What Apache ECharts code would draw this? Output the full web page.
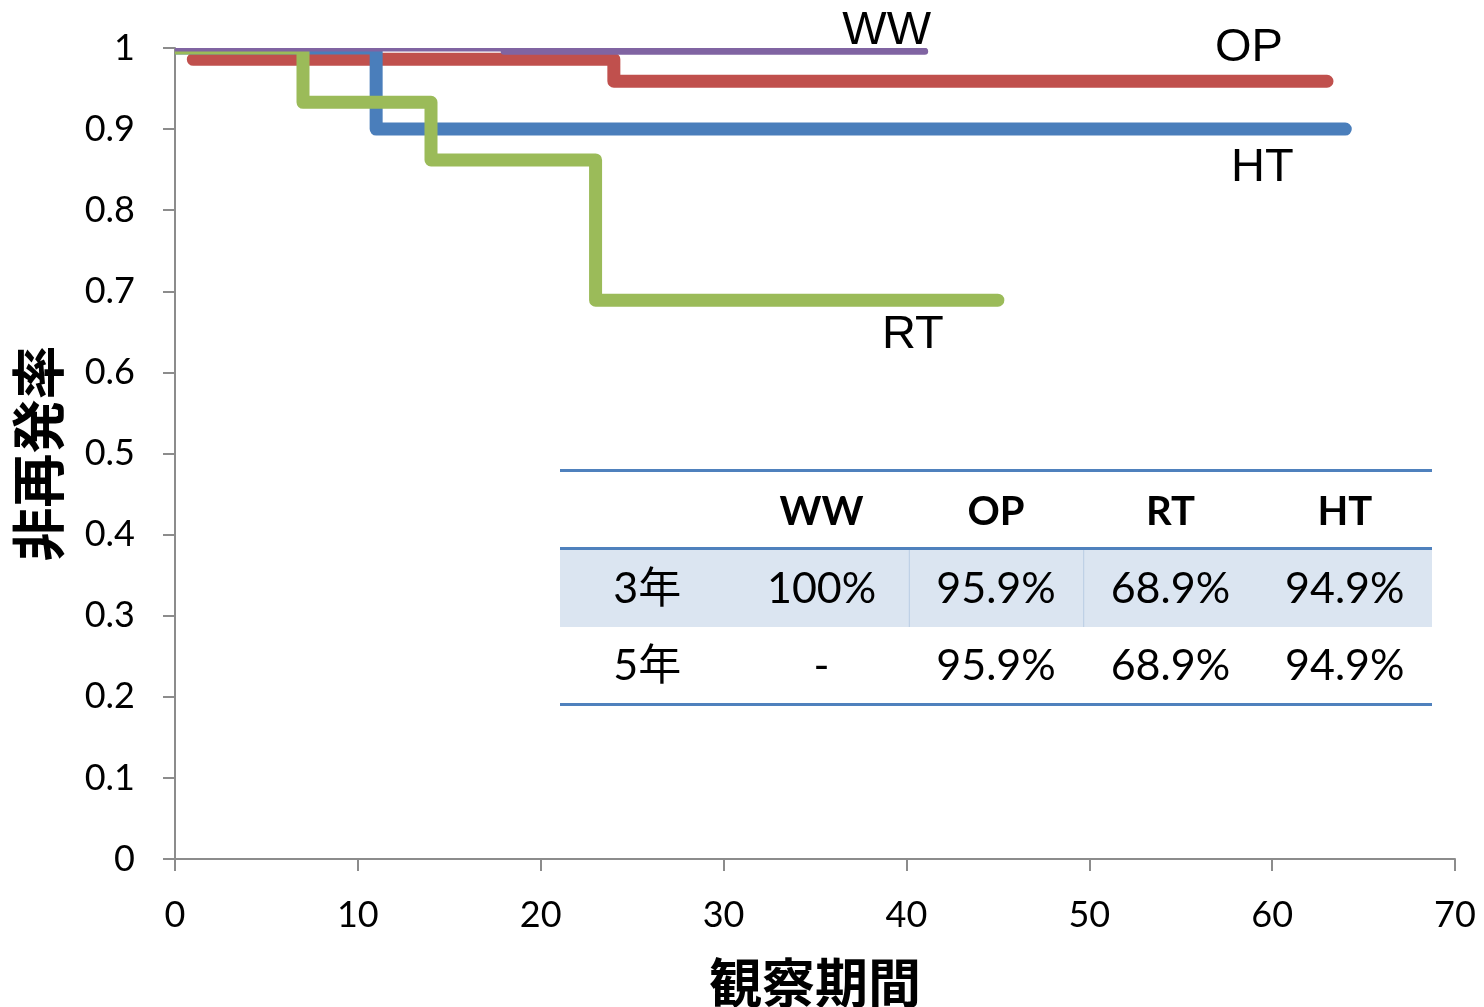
<!DOCTYPE html>
<html>
<head>
<meta charset="utf-8">
<script src="https://cdn.jsdelivr.net/npm/echarts@6/dist/echarts.min.js"></script>
<style>
  html, body { margin: 0; padding: 0; background: #ffffff; }
  #chart { width: 1484px; height: 1007px; }
</style>
</head>
<body>
<div id="chart"></div>
<script>
// Follow-up time (months) and recurrence-free rate at each step of each curve
const wwTime = [0, 18, 41];
const wwRate = [1, 0.996, 0.996];
const opTime = [1, 24, 63];
const opRate = [0.986, 0.959, 0.959];
const htTime = [0, 11, 64];
const htRate = [1, 0.9, 0.9];
const rtTime = [0, 7, 14, 23, 45];
const rtRate = [1, 0.933, 0.862, 0.689, 0.689];

// Summary table
const tableGroups = ['WW', 'OP', 'RT', 'HT'];
const tableRowLabels = ['3年', '5年'];
const rate3y = ['100%', '95.9%', '68.9%', '94.9%'];
const rate5y = ['-', '95.9%', '68.9%', '94.9%'];

const AXIS_GRAY = '#8c8c8c';
const NUM_FONT = 'Lato, "Noto Sans CJK JP", sans-serif';
const CJK_FONT = '"Noto Sans CJK JP", sans-serif';
const TAG_FONT = '"Liberation Sans", Arial, sans-serif';

// Kaplan-Meier style step curve, clipped exactly to the plot area
function stepCurve(name, times, rates, color, width) {
  const pts = times.map((t, i) => [t, rates[i]]);
  return {
    type: 'custom',
    name: name,
    coordinateSystem: 'cartesian2d',
    clip: true,
    silent: true,
    data: pts,
    encode: { x: 0, y: 1 },
    renderItem: function (params, api) {
      if (params.dataIndex !== 0) return null;
      const points = [];
      pts.forEach(function (p, i) {
        if (i > 0) points.push(api.coord([p[0], pts[i - 1][1]]));
        points.push(api.coord(p));
      });
      return {
        type: 'polyline',
        shape: { points: points },
        style: { stroke: color, lineWidth: width, fill: null, lineCap: 'round', lineJoin: 'round' }
      };
    }
  };
}

function lastPoint(times, rates) {
  return [times[times.length - 1], rates[rates.length - 1]];
}

// Curve name tags, anchored to each curve's final point
const curveTags = [
  { name: 'WW', value: lastPoint(wwTime, wwRate), label: { offset: [-38, -20] } },
  { name: 'OP', value: lastPoint(opTime, opRate), label: { offset: [-78, -33] } },
  { name: 'HT', value: lastPoint(htTime, htRate), label: { offset: [-83, 39] } },
  { name: 'RT', value: lastPoint(rtTime, rtRate), label: { offset: [-85, 35] } }
];

// Table layout
const tLeft = 560, tRight = 1432;
const colW = (tRight - tLeft) / 5;
const headY = 512, row1Y = 589, row2Y = 666;
const ruleColor = '#4f81bd';
const tableEls = [];
tableEls.push({ type: 'rect', shape: { x: tLeft, y: 549, width: tRight - tLeft, height: 78 }, style: { fill: '#dbe5f1' } });
[2, 3].forEach(function (c) {
  tableEls.push({ type: 'rect', shape: { x: tLeft + colW * c, y: 549, width: 1, height: 78 }, style: { fill: '#b8cce4' } });
});
[469, 547, 703].forEach(function (y) {
  tableEls.push({ type: 'rect', shape: { x: tLeft, y: y, width: tRight - tLeft, height: 3 }, style: { fill: ruleColor } });
});
function cellText(text, col, y, bold) {
  return {
    type: 'text',
    x: tLeft + colW * (col + 0.5),
    y: y,
    style: {
      text: text,
      fontSize: bold ? 40 : 43,
      fontWeight: bold ? 'bold' : 'normal',
      fontFamily: NUM_FONT,
      fill: '#000000',
      align: 'center',
      verticalAlign: 'middle'
    }
  };
}
tableGroups.forEach(function (g, i) { tableEls.push(cellText(g, i + 1, headY, true)); });
tableEls.push(cellText(tableRowLabels[0], 0, row1Y, false));
tableEls.push(cellText(tableRowLabels[1], 0, row2Y, false));
rate3y.forEach(function (v, i) { tableEls.push(cellText(v, i + 1, row1Y, false)); });
rate5y.forEach(function (v, i) { tableEls.push(cellText(v, i + 1, row2Y, false)); });

const chart = echarts.init(document.getElementById('chart'), null, { renderer: 'canvas' });
chart.setOption({
  animation: false,
  backgroundColor: '#ffffff',
  grid: { left: 175, right: 29, top: 48, bottom: 148, containLabel: false, outerBoundsMode: 'none' },
  xAxis: {
    type: 'value',
    min: 0, max: 70, interval: 10,
    name: '観察期間',
    nameLocation: 'middle',
    nameGap: 97,
    nameTextStyle: { fontFamily: CJK_FONT, fontWeight: 'bold', fontSize: 53, color: '#000' },
    axisLine: { show: true, lineStyle: { color: AXIS_GRAY, width: 2 } },
    axisTick: { show: true, length: 12, lineStyle: { color: AXIS_GRAY, width: 2 } },
    axisLabel: { fontFamily: NUM_FONT, fontSize: 36, color: '#000', margin: 38 },
    splitLine: { show: false }
  },
  yAxis: {
    type: 'value',
    min: 0, max: 1, interval: 0.1,
    name: '非再発率',
    nameLocation: 'middle',
    nameGap: 110,
    nameTextStyle: { fontFamily: CJK_FONT, fontWeight: 'bold', fontSize: 54, color: '#000' },
    axisLine: { show: true, lineStyle: { color: AXIS_GRAY, width: 2 } },
    axisTick: { show: true, length: 12, lineStyle: { color: AXIS_GRAY, width: 2 } },
    axisLabel: { fontFamily: NUM_FONT, fontSize: 36, color: '#000', margin: 40 },
    splitLine: { show: false }
  },
  series: [
    stepCurve('OP', opTime, opRate, '#c0504d', 13),
    stepCurve('HT', htTime, htRate, '#4a7ebb', 13),
    stepCurve('RT', rtTime, rtRate, '#9bbb59', 13),
    stepCurve('WW', wwTime, wwRate, '#8064a2', 7),
    {
      type: 'scatter',
      z: 10,
      clip: false,
      silent: true,
      symbolSize: 1,
      itemStyle: { color: 'rgba(0,0,0,0)' },
      label: {
        show: true,
        position: 'inside',
        formatter: '{b}',
        fontFamily: TAG_FONT,
        fontSize: 47,
        color: '#000000',
        opacity: 1,
        textBorderWidth: 0
      },
      data: curveTags
    }
  ],
  graphic: { elements: tableEls }
});
</script>
</body>
</html>
